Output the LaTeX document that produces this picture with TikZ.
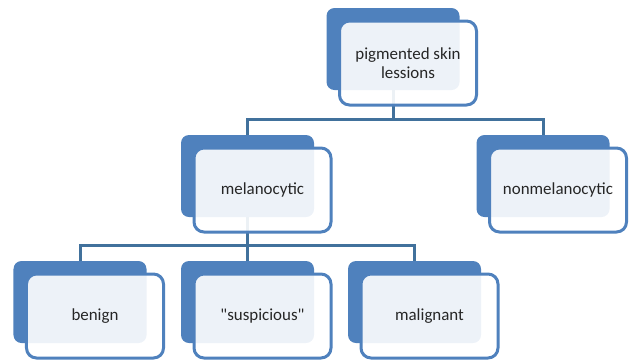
\documentclass[tikz,border=0pt]{standalone}
\usepackage{fontspec}
\setmainfont{Carlito}
\usepackage{tikz}
\usetikzlibrary{positioning,calc}
\definecolor{accent}{HTML}{4F81BD}
\definecolor{linkblue}{HTML}{41719C}
\definecolor{textgray}{HTML}{262626}
\tikzset{
  backbox/.style={fill=accent, rounded corners=8bp, minimum width=133bp, minimum height=82bp, inner sep=0pt},
  frontbox/.style={draw=accent, line width=3bp, fill=white, fill opacity=0.9, text opacity=1, rounded corners=10bp, minimum width=137bp, minimum height=84bp, align=center, text=textgray, font=\fontsize{17}{19}\selectfont, xshift=15bp, yshift=-14bp},
  link/.style={draw=linkblue, line width=3bp}
}
\begin{document}
\begin{tikzpicture}[x=1bp, y=-1bp]
\useasboundingbox (0,0) rectangle (630,361);
% back layer
\node[backbox] (topb) at (393,49) {};
\node[backbox] (melb) at (247.5,176) {};
\node[backbox] (nonb) at (543,176) {};
\node[backbox] (benb) at (80,302) {};
\node[backbox] (susb) at (247.5,302) {};
\node[backbox] (malb) at (414.5,302) {};
% connectors
\draw[link] (topb.south) -- ++(0,29) coordinate (tj) -| (melb.north);
\draw[link] (tj) -| (nonb.north);
\draw[link] (melb.south) -- ++(0,28) coordinate (mj) -| (benb.north);
\draw[link] (mj) -| (susb.north);
\draw[link] (mj) -| (malb.north);
% front layer
\node[frontbox] (top) at (topb) {pigmented skin\\lessions};
\node[frontbox] (mel) at (melb) {melanocytic};
\node[frontbox] (non) at (nonb) {nonmelanocytic};
\node[frontbox] (ben) at (benb) {benign};
\node[frontbox] (sus) at (susb) {\textquotedbl suspicious\textquotedbl};
\node[frontbox] (mal) at (malb) {malignant};
\end{tikzpicture}
\end{document}
